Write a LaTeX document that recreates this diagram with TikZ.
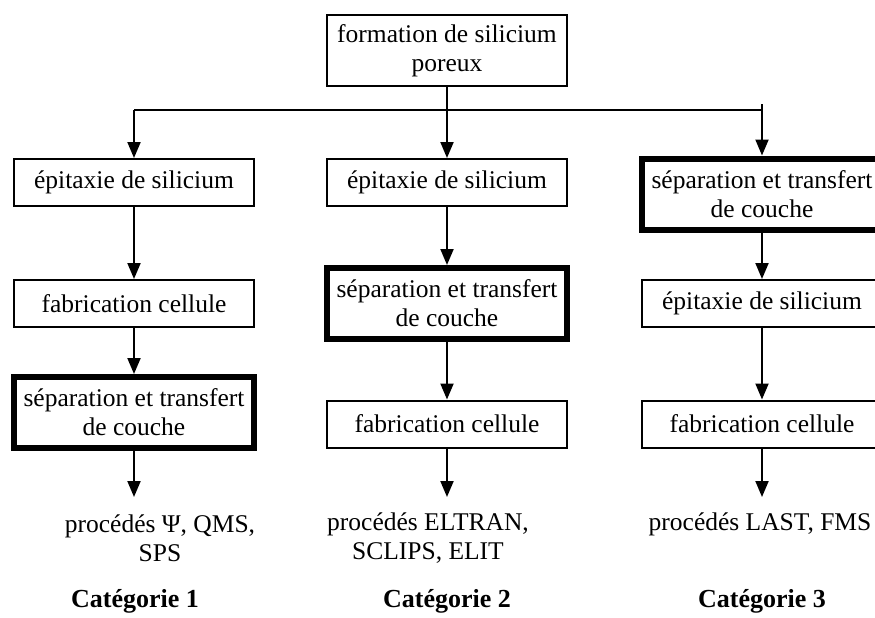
\documentclass[tikz,border=0pt]{standalone}
\usepackage{fontspec}
\setmainfont{Liberation Serif}
\usetikzlibrary{arrows.meta}
\begin{document}
\begin{tikzpicture}[x=1pt,y=-1pt,
  every node/.style={font=\fontsize{25.5}{29}\selectfont, align=center},
  box/.style={draw, line width=2pt, minimum width=240pt, minimum height=47pt, inner sep=0pt},
  thickbox/.style={draw, line width=6pt, minimum width=240pt, minimum height=71pt, inner sep=0pt},
  arr/.style={line width=2pt, -{Triangle[length=16pt,width=13pt]}},
  conn/.style={line width=2pt},
  hconn/.style={line width=1.6pt},
  cat/.style={font=\fontsize{26}{30}\selectfont\bfseries}]
\useasboundingbox (0,0) rectangle (875,618);
\node[box, minimum height=71pt] (top) at (447,50.5) {formation de silicium\\poreux};
\node[box] (l1) at (134,182.5) {épitaxie de silicium};
\node[box] (l2) at (134,303.5) {fabrication cellule};
\node[thickbox] (l3) at (134,412.5) {séparation et transfert\\de couche};
\node[box] (m1) at (447,182.5) {épitaxie de silicium};
\node[thickbox] (m2) at (447,303.5) {séparation et transfert\\de couche};
\node[box] (m3) at (447,424) {fabrication cellule};
\node[thickbox] (r1) at (762,194) {séparation et transfert\\de couche};
\node[box] (r2) at (762,303.5) {épitaxie de silicium};
\node[box] (r3) at (762,424) {fabrication cellule};
\node (lp) at (160,538) {procédés Ψ, QMS,\\SPS};
\node (mp) at (428,538) {procédés ELTRAN,\\SCLIPS, ELIT};
\node (rp) at (760,524) {procédés LAST, FMS};
\node[cat] (c1) at (135,601) {Catégorie 1};
\node[cat] (c2) at (447,601) {Catégorie 2};
\node[cat] (c3) at (762,601) {Catégorie 3};
\coordinate (j) at (447,110);
\coordinate (rt) at (762,104);
\coordinate (le) at (134,497);
\coordinate (me) at (447,497);
\coordinate (re) at (762,497);
\draw[conn] (top.south) -- (j);
\draw[hconn] (j -| l1.north) -- (j -| r1.north);
\draw[arr] (j) -- (m1.north);
\draw[arr] (j -| l1.north) -- (l1.north);
\draw[arr] (rt) -- (r1.north);
\draw[arr] (l1) -- (l2);
\draw[arr] (l2) -- (l3);
\draw[arr] (l3.south) -- (le);
\draw[arr] (m1) -- (m2);
\draw[arr] (m2) -- (m3);
\draw[arr] (m3.south) -- (me);
\draw[arr] (r1) -- (r2);
\draw[arr] (r2) -- (r3);
\draw[arr] (r3.south) -- (re);
\end{tikzpicture}
\end{document}
